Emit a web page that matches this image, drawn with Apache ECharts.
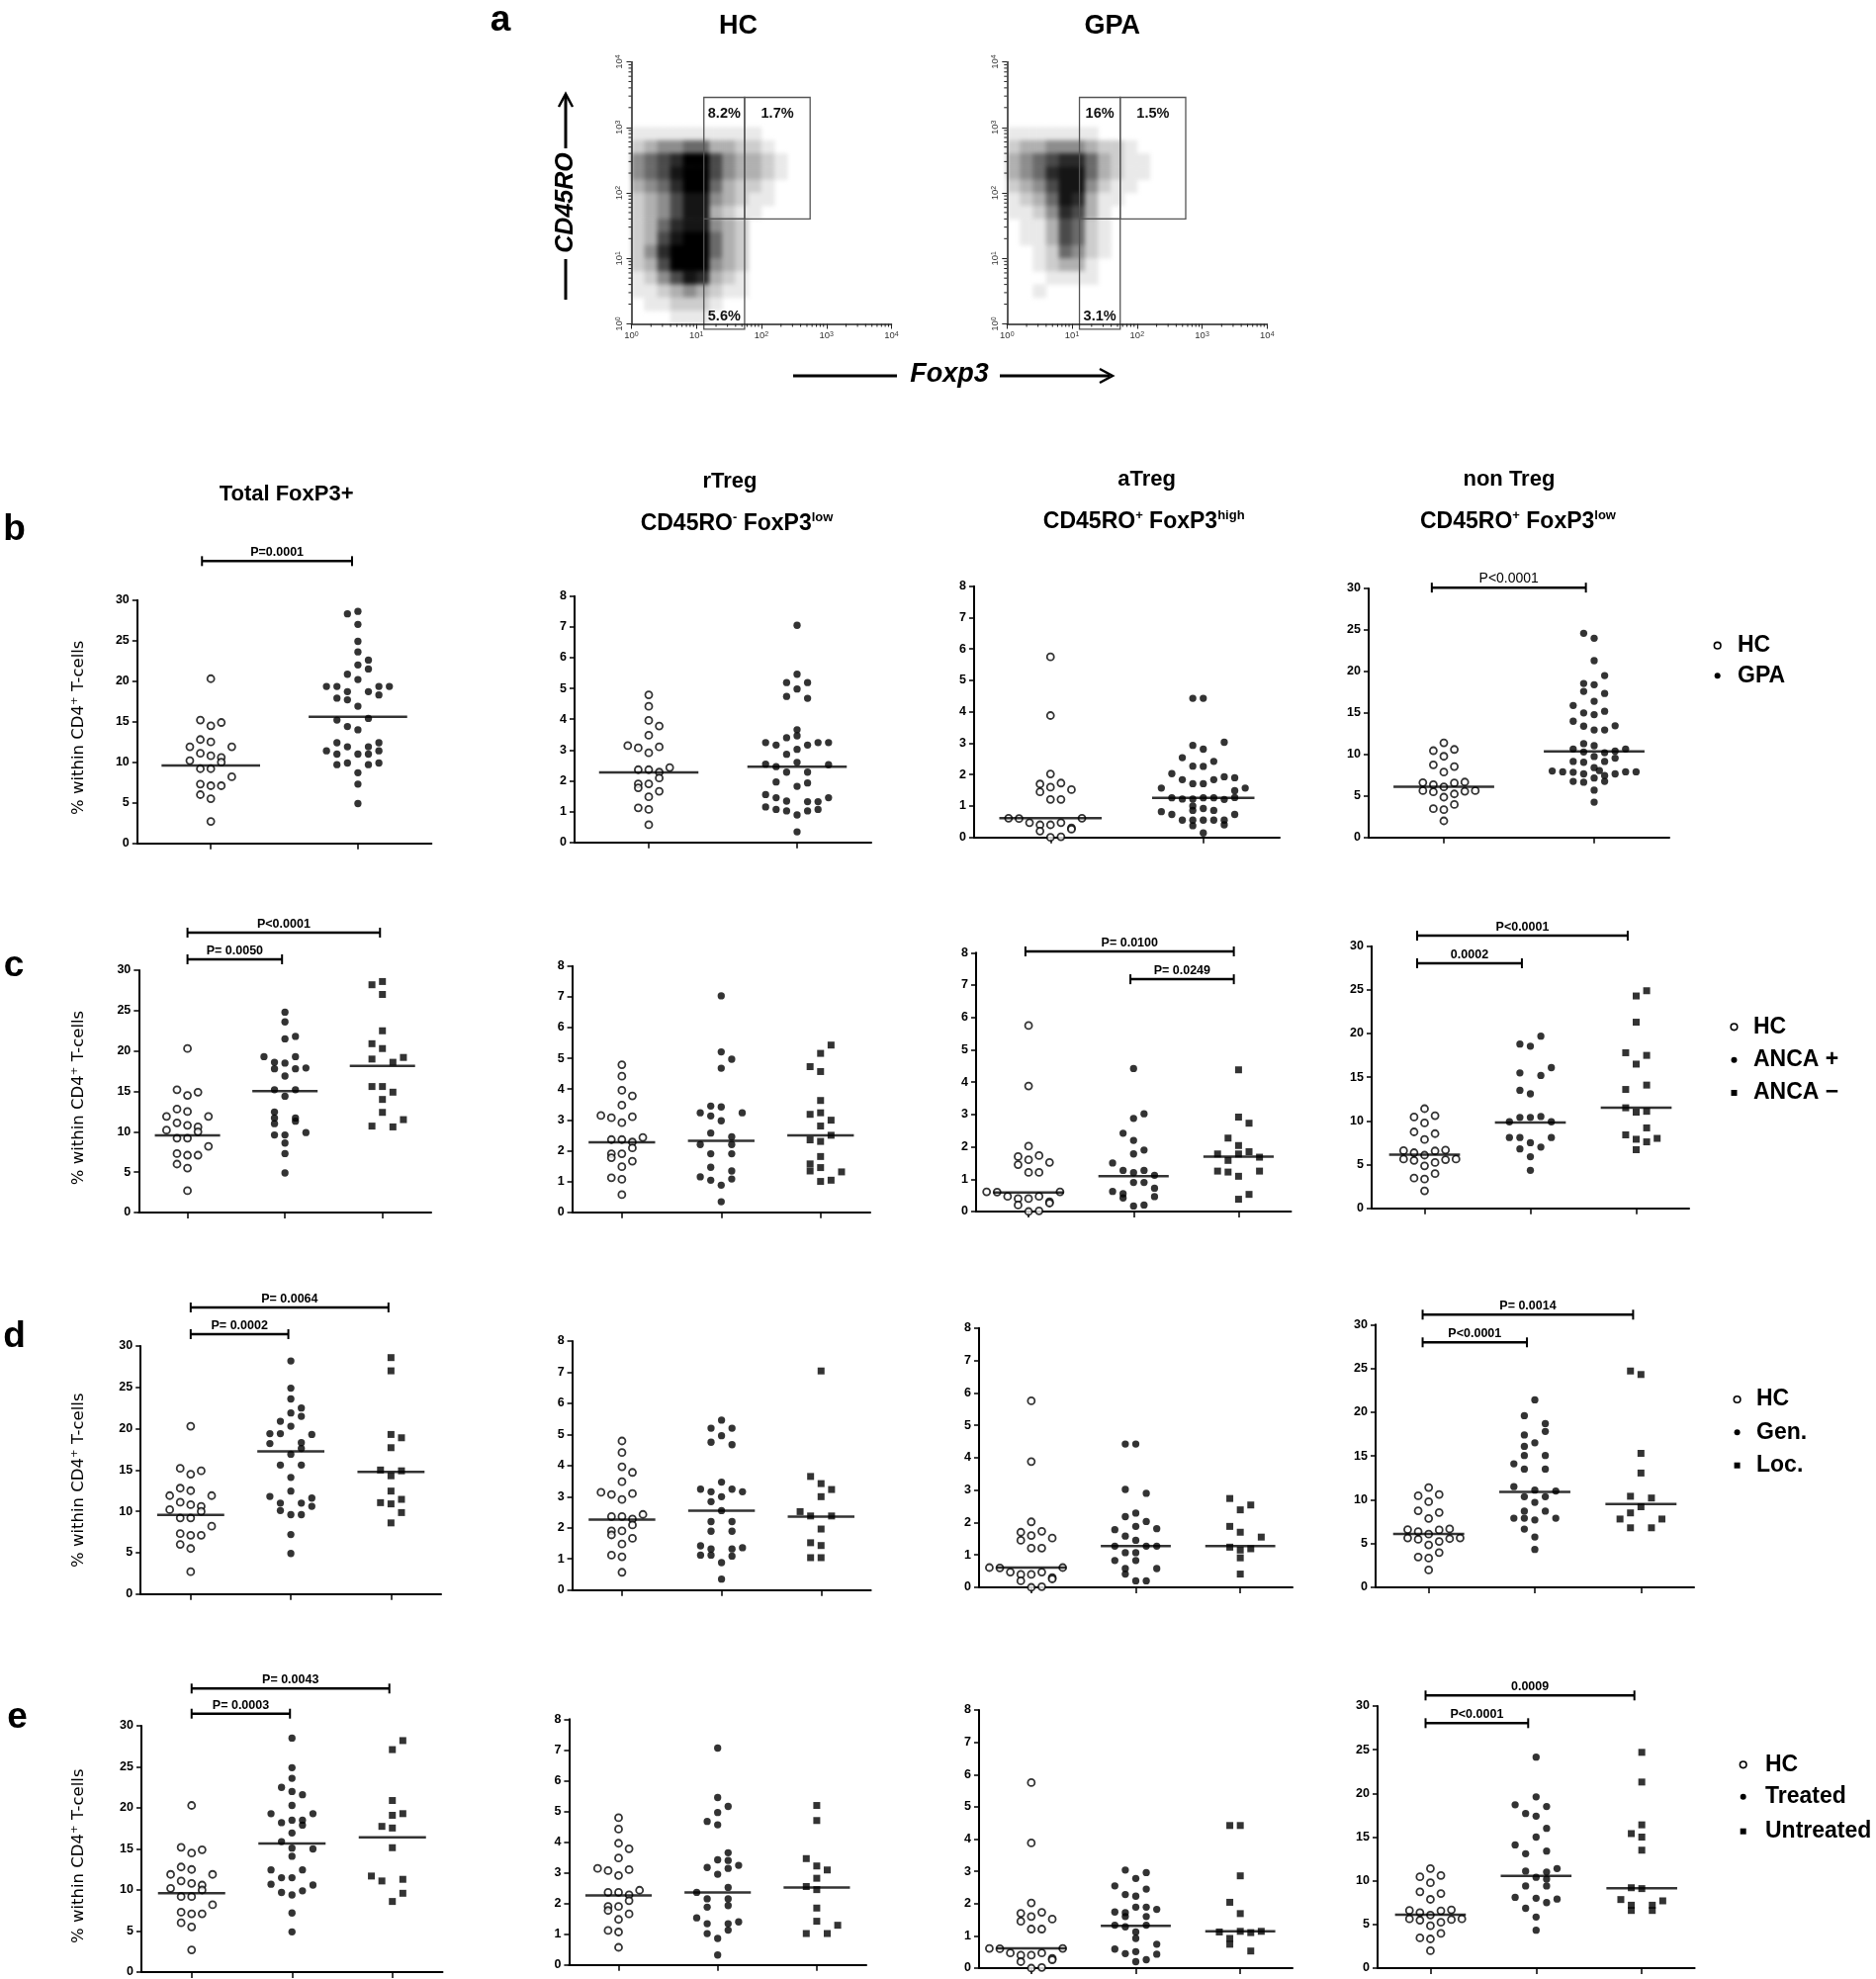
<!DOCTYPE html>
<html>
<head>
<meta charset="utf-8">
<script src="https://cdn.jsdelivr.net/npm/echarts/dist/echarts.min.js"></script>
<style>
html,body{margin:0;padding:0;background:#ffffff;}
#wrap{position:relative;width:1897px;height:2001px;}
#density{position:absolute;left:0;top:0;width:1897px;height:400px;filter:blur(2.2px);}
#chart{position:absolute;left:0;top:0;width:1897px;height:2001px;}
</style>
</head>
<body>
<div id="wrap"><div id="density"></div><div id="chart"></div></div>
<script>
// ================= DATA =================
// Each point: [lane, value]  lane = horizontal slot (in dot widths) inside its group column
// Healthy controls (identical in rows b-e)
const hcTotal = [[0,20.3],[-1,15.2],[1,14.9],[0,14.5],[-1,12.8],[0,12.5],[-2,11.9],[2,11.9],[-1,11.1],[0,10.8],[1,10.6],[-2,10.2],[1,10.0],[-1,9.2],[0,9.2],[2,8.2],[-1,7.3],[0,7.1],[1,7.1],[-1,6.0],[0,5.5],[0,2.7]];
const hcRTreg = [[0,4.79],[0,4.42],[0,3.96],[1,3.78],[0,3.48],[-2,3.14],[-1,3.07],[1,3.10],[0,2.91],[-1,2.36],[0,2.36],[1,2.28],[2,2.43],[1,2.09],[-1,1.90],[0,1.90],[-1,1.77],[1,1.66],[0,1.48],[-1,1.12],[0,1.07],[0,0.57]];
const hcATreg = [[0,5.75],[0,3.88],[0,2.02],[-1,1.70],[1,1.73],[0,1.60],[2,1.52],[-1,1.45],[0,1.21],[1,1.21],[-4,0.61],[-3,0.60],[3,0.61],[-2,0.47],[-1,0.40],[0,0.40],[1,0.47],[2,0.30],[-1,0.20],[2,0.26],[0,0.0],[1,0.02]];
const hcNonTreg = [[0,11.4],[-1,10.45],[1,10.6],[0,9.77],[-1,8.74],[1,8.54],[0,7.87],[-2,6.6],[-1,6.36],[0,6.08],[1,6.56],[2,6.67],[-2,5.64],[-1,5.48],[1,5.24],[2,5.56],[3,5.64],[0,4.85],[1,3.97],[-1,3.46],[0,3.34],[0,1.99]];

// Row b: GPA
const gpaTotal = [[-1,28.3],[0,28.6],[0,27.0],[0,24.9],[0,23.6],[1,22.6],[0,22.0],[1,21.5],[-1,20.85],[0,20.2],[-3,19.35],[-2,19.35],[2,19.35],[3,19.35],[-1,18.7],[1,18.7],[2,18.3],[-2,17.9],[-1,17.7],[0,16.9],[-2,15.2],[1,15.4],[-1,14.4],[0,14.0],[-2,12.4],[2,12.4],[-1,11.9],[1,11.9],[-3,11.4],[2,11.4],[-2,11.0],[0,11.0],[1,11.0],[-2,9.7],[-1,9.9],[1,9.7],[2,9.9],[0,8.7],[0,7.3],[0,4.9]];
const gpaRTreg = [[0,7.05],[0,5.46],[-1,5.19],[1,5.19],[0,4.98],[-1,4.74],[1,4.68],[0,3.66],[-1,3.40],[0,3.46],[-3,3.24],[-2,3.16],[1,3.16],[2,3.24],[3,3.24],[-1,2.86],[0,3.02],[-3,2.54],[-2,2.46],[0,2.60],[3,2.52],[-1,2.28],[1,2.28],[-2,1.96],[1,1.93],[0,1.82],[-3,1.55],[-2,1.45],[-1,1.34],[1,1.32],[2,1.32],[3,1.45],[-3,1.15],[-2,1.07],[-1,1.02],[0,0.89],[1,1.02],[2,1.07],[0,0.34]];
const gpaATreg = [[-1,4.43],[0,4.43],[2,3.03],[-1,2.93],[0,2.81],[-2,2.54],[1,2.42],[-1,2.27],[0,2.26],[-3,2.03],[2,1.93],[3,1.90],[-2,1.84],[-1,1.71],[0,1.71],[1,1.84],[-4,1.57],[4,1.57],[3,1.49],[-3,1.26],[-2,1.22],[-1,1.22],[0,1.26],[1,1.26],[2,1.21],[3,1.27],[-1,1.0],[0,0.92],[-4,0.82],[-1,0.86],[1,0.86],[-3,0.73],[3,0.73],[-2,0.55],[-1,0.55],[0,0.55],[1,0.55],[2,0.55],[-1,0.37],[2,0.40],[0,0.14]];
const gpaNonTreg = [[-1,24.6],[0,24.0],[0,21.3],[1,19.5],[-1,18.55],[0,18.4],[-1,17.6],[1,17.35],[0,16.4],[-2,15.9],[-1,15.0],[0,14.8],[1,15.2],[-2,14.0],[-1,13.4],[0,12.95],[1,12.95],[2,13.45],[-1,11.3],[0,11.05],[-2,10.65],[3,10.65],[-1,10.3],[0,9.75],[1,10.2],[2,10.4],[-2,9.15],[-1,9.05],[1,9.15],[2,9.55],[0,8.4],[0.5,8.05],[-4,8.0],[-3,7.9],[-2,7.85],[-1,7.65],[1,7.45],[2,7.65],[3,7.9],[4,7.9],[-2,6.75],[-1,6.65],[0,7.15],[1,6.75],[0,5.7],[0,4.25]];

// Row c: ANCA+ / ANCA-
const ancaPosTotal = [[0,24.8],[0,23.6],[0,21.5],[1,21.8],[-2,19.3],[1,19.3],[-1,18.6],[0,18.5],[-1,17.8],[1,17.8],[2,17.9],[0,16.9],[-1,15.2],[1,15.2],[0,14.4],[-1,12.45],[-1,11.7],[1,11.7],[-1,11.0],[1,11.3],[-1,9.6],[0,9.6],[2,9.9],[0,8.6],[0,7.3],[0,4.9]];
const ancaNegTotal = [[-1,28.2],[0,28.6],[0,27.0],[0,22.5],[-1,20.9],[0,20.3],[2,19.2],[-1,19.0],[1,18.6],[-1,15.6],[0,15.6],[1,14.9],[0,14.0],[0,12.4],[2,11.5],[-1,10.7],[1,10.6]];
const ancaPosRTreg = [[0,7.03],[0,5.21],[1,4.97],[0,4.68],[-1,3.45],[0,3.42],[-2,3.23],[-1,3.13],[2,3.23],[0,2.97],[-1,2.57],[1,2.45],[-2,2.2],[1,2.2],[-1,1.9],[1,1.9],[-1,1.46],[1,1.34],[-2,1.15],[-1,1.04],[1,1.08],[0,0.88],[0,0.34]];
const ancaNegRTreg = [[1,5.43],[0,5.16],[-1,4.73],[0,4.57],[0,3.63],[-1,3.18],[0,3.23],[1,2.99],[0,2.8],[1,2.5],[-1,2.35],[0,2.3],[0,1.81],[-1,1.57],[0,1.45],[-1,1.34],[2,1.31],[0,1.0],[1,1.04]];
const ancaPosATreg = [[0,4.42],[0,2.88],[1,3.02],[-1,2.42],[0,2.2],[1,1.9],[0,1.78],[-2,1.5],[-1,1.27],[1,1.27],[0,1.2],[2,1.12],[0,0.9],[1,0.9],[-2,0.62],[-1,0.55],[2,0.72],[-1,0.42],[2,0.46],[0,0.17],[1,0.2]];
const ancaNegATreg = [[0,4.38],[0,2.92],[1,2.73],[-1,2.27],[0,2.04],[-2,1.78],[0,1.78],[1,1.85],[-1,1.58],[2,1.68],[-2,1.25],[-1,1.22],[2,1.25],[0,1.09],[1,0.53],[0,0.38]];
const ancaPosNonTreg = [[1,19.7],[-1,18.8],[0,18.55],[2,16.1],[-1,15.5],[1,15.2],[-1,13.5],[0,13.1],[-1,10.4],[0,10.4],[1,10.5],[-2,9.9],[2,9.9],[-2,8.1],[-1,8.1],[2,8.1],[0,7.5],[-1,6.8],[1,7.0],[0,5.9],[0,4.34]];
const ancaNegNonTreg = [[1,24.9],[0,24.3],[0,21.3],[-1,17.8],[1,17.5],[0,16.5],[1,14.1],[-1,13.6],[-1,11.5],[0,11.0],[1,11.1],[1,9.2],[-1,8.4],[0,7.9],[1,7.6],[2,8.0],[0,6.7]];

// Row d: generalized / localized
const genTotal = [[0,28.2],[0,24.9],[0,23.6],[1,22.5],[0,21.9],[1,21.5],[-1,20.9],[0,20.3],[-2,19.4],[-1,19.4],[2,19.3],[-2,18.2],[1,18.3],[1,17.6],[0,16.9],[-1,15.6],[1,15.6],[0,14.1],[0,12.45],[-2,11.8],[2,11.6],[-1,11.0],[1,11.0],[2,10.6],[-1,10.1],[0,9.6],[1,9.6],[0,7.2],[0,4.9]];
const locTotal = [[0,28.6],[0,27.0],[0,19.3],[1,18.9],[0,17.7],[-1,15.0],[1,14.9],[0,14.3],[0,12.45],[1,11.45],[-1,11.05],[0,10.9],[1,9.85],[0,8.6]];
const genRTreg = [[0,5.46],[-1,5.2],[1,5.2],[0,4.96],[-1,4.75],[1,4.67],[0,3.47],[-2,3.24],[-1,3.16],[1,3.24],[2,3.16],[0,3.0],[-1,2.84],[0,2.55],[-1,2.2],[1,2.2],[-1,1.89],[1,1.89],[-2,1.42],[-1,1.32],[1,1.32],[2,1.36],[-2,1.12],[-1,1.12],[1,1.09],[0,0.88],[0,0.35]];
const locRTreg = [[0,7.04],[-1,3.65],[0,3.42],[1,3.23],[0,3.0],[-2,2.52],[-1,2.38],[1,2.38],[0,1.96],[-1,1.52],[0,1.43],[-1,1.04],[0,1.04]];
const genATreg = [[-1,4.42],[0,4.42],[-1,3.02],[1,2.9],[0,2.29],[-1,2.18],[1,2.03],[0,1.88],[-2,1.78],[2,1.81],[-1,1.58],[0,1.45],[-2,1.27],[1,1.27],[2,1.27],[-1,1.07],[0,1.07],[-2,0.83],[0,0.83],[-1,0.58],[2,0.58],[-1,0.41],[0,0.2],[1,0.2]];
const locATreg = [[-1,2.74],[1,2.54],[0,2.39],[-1,1.88],[0,1.7],[2,1.55],[-1,1.24],[1,1.19],[0,1.15],[0,0.91],[0,0.41]];
const genNonTreg = [[0,21.4],[-1,19.6],[1,18.7],[1,17.8],[-1,17.4],[0,16.5],[-1,16.1],[-1,15.05],[1,15.05],[-2,14.1],[-1,13.5],[1,13.5],[-2,11.5],[0,11.1],[2,11.0],[-1,10.35],[1,10.35],[0,9.7],[-1,8.7],[1,8.7],[-2,7.9],[-1,7.9],[0,7.7],[2,7.9],[-1,6.65],[0,5.75],[0,4.33]];
const locNonTreg = [[-1,24.7],[0,24.3],[0,15.3],[0,13.05],[-1,10.4],[1,10.2],[0,9.2],[-1,8.5],[-2,7.8],[2,7.8],[-1,6.8],[1,6.8]];

// Row e: treated / untreated
const treatedTotal = [[0,28.5],[0,24.9],[0,23.6],[-1,22.5],[0,22.0],[1,21.6],[0,20.3],[-2,19.3],[2,19.3],[-1,18.2],[0,18.5],[1,18.5],[1,17.9],[0,16.95],[-1,15.9],[0,15.1],[2,15.0],[0,14.1],[-2,12.45],[1,12.45],[-1,11.5],[0,11.5],[-2,10.7],[2,10.6],[-1,9.7],[0,9.4],[1,9.9],[0,7.2],[0,4.9]];
const untreatedTotal = [[1,28.2],[0,27.1],[0,20.9],[0,19.1],[1,19.3],[-1,17.75],[0,17.55],[0,15.15],[-2,11.7],[-1,11.1],[1,11.3],[1,9.6],[0,8.6]];
const treatedRTreg = [[0,7.06],[0,5.45],[1,5.16],[0,4.96],[-1,4.67],[0,4.56],[1,3.65],[0,3.42],[1,3.4],[-1,3.17],[2,3.24],[1,3.14],[0,2.95],[1,2.52],[-2,2.36],[-1,2.15],[1,2.15],[-1,1.88],[1,1.93],[-2,1.53],[-1,1.34],[1,1.34],[2,1.4],[-1,1.02],[1,1.13],[0,0.86],[0,0.32]];
const untreatedRTreg = [[0,5.19],[0,4.7],[-1,3.46],[0,3.22],[1,3.09],[0,2.82],[-1,2.55],[0,2.45],[0,1.85],[0,1.42],[2,1.29],[-1,1.02],[1,1.02]];
const treatedATreg = [[-1,3.04],[1,2.96],[0,2.78],[-2,2.55],[1,2.45],[-1,2.28],[0,2.23],[0,1.89],[1,1.89],[2,1.82],[-2,1.74],[-1,1.72],[-1,1.6],[1,1.6],[-2,1.33],[-1,1.28],[1,1.33],[0,1.12],[0,0.92],[2,0.74],[-2,0.59],[-1,0.45],[0,0.51],[2,0.43],[0,0.2],[1,0.26]];
const untreatedATreg = [[-1,4.42],[0,4.42],[0,2.86],[-1,2.04],[0,1.69],[-2,1.12],[0,1.14],[2,1.14],[-1,0.92],[1,1.1],[-1,0.74],[1,0.53]];
const treatedNonTreg = [[0,24.15],[0,19.6],[-2,18.7],[1,18.5],[-1,17.7],[0,17.4],[1,16.0],[0,15.0],[-2,14.1],[-1,13.1],[1,13.4],[2,11.4],[-1,11.1],[1,11.0],[0,10.4],[1,10.2],[-1,9.4],[1,9.4],[-2,8.1],[0,8.0],[2,7.9],[1,7.5],[-1,6.85],[0,5.85],[0,4.34]];
const untreatedNonTreg = [[0,24.7],[0,21.3],[0,16.4],[-1,15.4],[0,15.0],[0,13.5],[-1,9.2],[0,9.1],[-2,7.85],[2,7.7],[-1,7.2],[1,7.2],[-1,6.6],[1,6.6]];

// Median lines per row, per panel (Total, rTreg, aTreg, nonTreg)
const medianRowB = [[9.6,15.6],[2.27,2.46],[0.61,1.26],[6.1,10.35]];
const medianRowC = [[9.55,15.02,18.16],[2.27,2.32,2.5],[0.59,1.09,1.70],[6.15,9.81,11.5]];
const medianRowD = [[9.57,17.27,14.76],[2.26,2.55,2.36],[0.61,1.27,1.27],[6.1,10.9,9.52]];
const medianRowE = [[9.6,15.66,16.43],[2.26,2.36,2.52],[0.61,1.31,1.14],[6.11,10.57,9.13]];

// Significance brackets: [panel, fromGroup, toGroup, level, label]
const bracketsRowB = [[0,0.94,1.96,34.8,'P=0.0001'],[3,0.92,1.945,30.1,'P<0.0001']];
const bracketsRowC = [[0,1.0,2.975,34.65,'P<0.0001'],[0,1.0,1.97,31.35,'P= 0.0050'],[2,0.97,2.955,8.04,'P= 0.0100'],[2,1.97,2.955,7.18,'P= 0.0249'],[3,0.93,2.92,31.2,'P<0.0001'],[3,0.93,1.92,28.04,'0.0002']];
const bracketsRowD = [[0,1.0,2.975,34.67,'P= 0.0064'],[0,1.0,1.975,31.44,'P= 0.0002'],[3,0.943,2.926,31.13,'P= 0.0014'],[3,0.943,1.926,27.97,'P<0.0001']];
const bracketsRowE = [[0,1.0,2.97,34.54,'P= 0.0043'],[0,1.0,1.98,31.48,'P= 0.0003'],[3,0.954,2.93,31.21,'0.0009'],[3,0.954,1.925,28.04,'P<0.0001']];

// Text
const panelTitles = ['Total FoxP3+','rTreg','aTreg','non Treg'];
const legendB = ['HC','GPA'];
const legendC = ['HC','ANCA +','ANCA \u2212'];
const legendD = ['HC','Gen.','Loc.'];
const legendE = ['HC','Treated','Untreated'];
const yTitle = '% within CD4\u207A T-cells';

// Flow cytometry density (panel a): rows from 10^3.4 (top) down to 10^0, 0.2-decade cells from 10^0 rightwards, level 0-9
const hcFlowDensity = [
 "0000000000000","0000000000000","1111111111000","2344553322100","4567996433210","4568996433210",
 "3457995322100","2346884321100","2346883211000","2357884320000","2368995320000","2479995320000",
 "2369994320000","1246873210000","1123432110000","0112221000000","0001110000000"];
const gpaFlowDensity = [
 "0000000000000","0000000000000","1111111000000","2334443221000","3456775321100","3457885321100",
 "2346884211000","1235873110000","1124763100000","0113652100000","0113652100000","0012542100000",
 "0012331000000","0001111000000","0010000000000","0000000000000","0000000000000"];
const flowGateX = [13, 55, 560];
const flowGateY = [0.83, 40, 2860];
const hcGateLabels = ['8.2%','1.7%','5.6%'];
const gpaGateLabels = ['16%','1.5%','3.1%'];
const flowMinorTicks = [2,3,4,5,6,7,8,9,20,30,40,50,60,70,80,90,200,300,400,500,600,700,800,900,2000,3000,4000,5000,6000,7000,8000,9000];

// ================= CHART =================
const FONT = "'Liberation Sans', Arial, Helvetica, sans-serif";
const chart = echarts.init(document.getElementById('chart'), null, {renderer:'canvas', width:1897, height:2001});
const dchart = echarts.init(document.getElementById('density'), null, {renderer:'canvas', width:1897, height:400});
const grid = [], xAxis = [], yAxis = [], series = [], graphic = [];
const dGrid = [], dX = [], dY = [], dSeries = [];
const LANE_PX = 10.6, MED_HALF = 0.335;
const STY = {
  hc:  {symbol:'circle', symbolSize:7, itemStyle:{color:'#ffffff', borderColor:'#000', borderWidth:1.8}},
  dot: {symbol:'circle', symbolSize:7.3, itemStyle:{color:'#000'}},
  sq:  {symbol:'rect', symbolSize:7, itemStyle:{color:'#000'}}
};

function dotPanel(rect, yMax, groups, medians, brackets, normalP) {
  const gi = grid.length;
  grid.push({left:rect[0], top:rect[1], width:rect[2], height:rect[3], outerBoundsMode:'none'});
  const N = groups.length;
  xAxis.push({type:'category', gridIndex:gi, data:groups.map((g,i)=>'g'+i), boundaryGap:true,
    axisLine:{show:true, onZero:false, lineStyle:{color:'#000', width:2}},
    axisTick:{show:true, alignWithLabel:true, length:6, lineStyle:{color:'#000', width:1.5}},
    axisLabel:{show:false}, splitLine:{show:false}});
  const xv = xAxis.length;
  xAxis.push({type:'value', gridIndex:gi, min:0.5, max:N+0.5, show:false});
  const yi = yAxis.length;
  yAxis.push({type:'value', gridIndex:gi, min:0, max:yMax, interval: yMax>10?5:1,
    axisLine:{show:true, lineStyle:{color:'#000', width:2}},
    axisTick:{show:true, length:5, lineStyle:{color:'#000', width:1.5}},
    axisLabel:{show:true, color:'#000', fontSize:12.5, fontWeight:'bold', fontFamily:FONT, margin:8},
    splitLine:{show:false}});
  const laneCat = LANE_PX / (rect[2]/N);
  groups.forEach(([pts, kind], k) => {
    const st = STY[kind];
    series.push({type:'scatter', xAxisIndex:xv, yAxisIndex:yi, symbol:st.symbol, symbolSize:st.symbolSize,
      itemStyle:st.itemStyle, silent:true, clip:false, z:3,
      data: pts.map(([l,v]) => [k+1+l*laneCat, v])});
  });
  series.push({type:'scatter', xAxisIndex:xv, yAxisIndex:yi, symbol:'rect',
    symbolSize:[2*MED_HALF*rect[2]/N, 2.5], itemStyle:{color:'#000'}, silent:true, clip:false, z:4,
    data: medians.map((m,k)=>[k+1, m])});
  if (brackets.length) {
    series.push({type:'custom', xAxisIndex:xv, yAxisIndex:yi, clip:false, silent:true, z:5,
      data: brackets.map(b => [b[1], b[2], b[3]]),
      renderItem: (params, api) => {
        const b = brackets[params.dataIndex];
        const p1 = api.coord([api.value(0), api.value(2)]);
        const p2 = api.coord([api.value(1), api.value(2)]);
        return {type:'group', children:[
          {type:'line', shape:{x1:p1[0], y1:p1[1], x2:p2[0], y2:p2[1]}, style:{stroke:'#000', lineWidth:2.5}},
          {type:'line', shape:{x1:p1[0], y1:p1[1]-5, x2:p1[0], y2:p1[1]+5}, style:{stroke:'#000', lineWidth:2}},
          {type:'line', shape:{x1:p2[0], y1:p2[1]-5, x2:p2[0], y2:p2[1]+5}, style:{stroke:'#000', lineWidth:2}},
          {type:'text', x:(p1[0]+p2[0])/2, y:p1[1]-2, style:{text:b[4], fill:'#000',
            fontSize: normalP ? 14 : 12.5, fontWeight: normalP ? 'normal' : 'bold', fontFamily:FONT,
            align:'center', verticalAlign:'bottom'}}
        ]};
      }});
  }
}

function flowPlot(rect, density, gateLabels) {
  // density layer (separate, softly blurred canvas placed exactly under the log grid)
  const gh = dGrid.length;
  dGrid.push({left:rect[0], top:rect[1], width:rect[2], height:rect[3], outerBoundsMode:'none'});
  const cells = Array.from({length:20}, (_, i) => String(i));
  const hx = dX.length; dX.push({type:'category', gridIndex:gh, data:cells, show:false});
  const hy = dY.length; dY.push({type:'category', gridIndex:gh, data:cells, show:false});
  const hdata = [];
  const topJ = density.length - 1;
  density.forEach((row, r) => {
    for (let i = 0; i < row.length; i++) {
      const lv = Number(row[i]);
      if (lv > 0) hdata.push([i, topJ - r, lv]);
    }
  });
  dSeries.push({type:'heatmap', xAxisIndex:hx, yAxisIndex:hy, data:hdata, silent:true,
    itemStyle:{borderWidth:0}, emphasis:{disabled:true}});
  // log axes grid
  const g = grid.length;
  grid.push({left:rect[0], top:rect[1], width:rect[2], height:rect[3], outerBoundsMode:'none'});
  const lbl = v => '{b|10}{s|' + Math.round(Math.log10(v)) + '}';
  const rich = {b:{fontSize:9.5, color:'#333', fontFamily:FONT}, s:{fontSize:7, color:'#333', fontFamily:FONT, verticalAlign:'top'}};
  const lx = xAxis.length;
  xAxis.push({type:'log', logBase:10, gridIndex:g, min:1, max:10000, splitNumber:4, z:10,
    axisLine:{show:true, lineStyle:{color:'#222', width:1.5}},
    axisTick:{show:true, length:5, lineStyle:{color:'#222', width:1}},
    axisLabel:{show:true, formatter:lbl, rich:rich, margin:7}, splitLine:{show:false}});
  const ly = yAxis.length;
  yAxis.push({type:'log', logBase:10, gridIndex:g, min:1, max:10000, splitNumber:4, z:10,
    axisLine:{show:true, lineStyle:{color:'#222', width:1.5}},
    axisTick:{show:true, length:5, lineStyle:{color:'#222', width:1}},
    axisLabel:{show:true, formatter:lbl, rich:rich, margin:7, rotate:90}, splitLine:{show:false}});
  series.push({type:'custom', xAxisIndex:lx, yAxisIndex:ly, clip:false, silent:true, z:6,
    data: flowMinorTicks.map(v => [v, v]),
    renderItem: (params, api) => {
      const px = api.coord([api.value(0), 1]);
      const py = api.coord([1, api.value(1)]);
      return {type:'group', children:[
        {type:'line', shape:{x1:px[0], y1:px[1], x2:px[0], y2:px[1]+3}, style:{stroke:'#222', lineWidth:1}},
        {type:'line', shape:{x1:py[0], y1:py[1], x2:py[0]-3, y2:py[1]}, style:{stroke:'#222', lineWidth:1}}
      ]};
    }});
  const gx = flowGateX, gy = flowGateY;
  const boxes = [[gx[0], gy[1], gx[1], gy[2]], [gx[1], gy[1], gx[2], gy[2]], [gx[0], gy[0], gx[1], gy[1]]];
  series.push({type:'custom', xAxisIndex:lx, yAxisIndex:ly, clip:false, silent:true, z:7,
    data: boxes,
    renderItem: (params, api) => {
      const a = api.coord([api.value(0), api.value(1)]);
      const b = api.coord([api.value(2), api.value(3)]);
      const x0 = Math.min(a[0], b[0]), x1 = Math.max(a[0], b[0]);
      const y0 = Math.min(a[1], b[1]), y1 = Math.max(a[1], b[1]);
      const idx = params.dataIndex;
      const ty = idx < 2 ? y0 + 16 : y1 - 13;
      return {type:'group', children:[
        {type:'rect', shape:{x:x0, y:y0, width:x1-x0, height:y1-y0}, style:{fill:null, stroke:'#555', lineWidth:1.3}},
        {type:'text', x:(x0+x1)/2, y:ty, style:{text:gateLabels[idx], fill:'#111', fontSize:14.5, fontWeight:'bold', fontFamily:FONT, align:'center', verticalAlign:'middle'}}
      ]};
    }});
}

// ---- text helpers ----
function txt(text, x, y, size, o) {
  o = o || {};
  graphic.push({type:'text', x:x, y:y, rotation:o.rot||0, silent:true, z:50,
    style:{text:text, fill:'#000', fontSize:size, fontWeight:o.weight||'bold', fontStyle:o.italic?'italic':'normal',
      fontFamily:o.family||FONT, align:o.align||'center', verticalAlign:o.va||'middle'}});
}
function supText(main1, sup1, main2, sup2, x, y) {
  const r = {m:{fontSize:23, fontWeight:'bold', fontFamily:FONT, fill:'#000', lineHeight:26},
             s:{fontSize:13, fontWeight:'bold', fontFamily:FONT, fill:'#000', verticalAlign:'top', lineHeight:26}};
  graphic.push({type:'text', x:x, y:y, silent:true, z:50,
    style:{text:'{m|'+main1+'}{s|'+sup1+'}{m| '+main2+'}{s|'+sup2+'}', rich:r, align:'center', verticalAlign:'middle', fontSize:23, fontFamily:FONT}});
}
function legend(labels, kinds, mx, tx, ys) {
  labels.forEach((l, i) => {
    const k = kinds[i], y = ys[i];
    if (k === 'hc') graphic.push({type:'circle', shape:{cx:mx, cy:y, r:3.3}, style:{fill:'#fff', stroke:'#000', lineWidth:1.6}, silent:true});
    else if (k === 'dot') graphic.push({type:'circle', shape:{cx:mx, cy:y, r:3}, style:{fill:'#000'}, silent:true});
    else graphic.push({type:'rect', shape:{x:mx-3, y:y-3, width:6, height:6}, style:{fill:'#000'}, silent:true});
    txt(l, tx, y, 23, {align:'left'});
  });
}

// ---- panel layout ----
const colYMax = [30, 8, 8, 30];
const rectsB = [[138.8,606.7,297.5,246],[581,602.7,300,249],[985,592.7,309,254],[1384,595,304,251.7]];
const rectsC = [[140.3,981,295.7,245],[578.6,976.7,301.4,249],[987,963.3,318.5,261.7],[1387,956.7,321,265]];
const rectsD = [[142.2,1361,303.8,250.7],[578.6,1356,302,251.7],[990,1342.7,317,262.3],[1391,1339.3,322,265.7]];
const rectsE = [[143,1745,304.5,249],[575.4,1738.3,300.6,248.4],[990,1729,317,261],[1393,1725,320.6,265]];

const rows = [
  {rects:rectsB, med:medianRowB, br:bracketsRowB, groups:[
    [[hcTotal,'hc'],[gpaTotal,'dot']], [[hcRTreg,'hc'],[gpaRTreg,'dot']],
    [[hcATreg,'hc'],[gpaATreg,'dot']], [[hcNonTreg,'hc'],[gpaNonTreg,'dot']]]},
  {rects:rectsC, med:medianRowC, br:bracketsRowC, groups:[
    [[hcTotal,'hc'],[ancaPosTotal,'dot'],[ancaNegTotal,'sq']], [[hcRTreg,'hc'],[ancaPosRTreg,'dot'],[ancaNegRTreg,'sq']],
    [[hcATreg,'hc'],[ancaPosATreg,'dot'],[ancaNegATreg,'sq']], [[hcNonTreg,'hc'],[ancaPosNonTreg,'dot'],[ancaNegNonTreg,'sq']]]},
  {rects:rectsD, med:medianRowD, br:bracketsRowD, groups:[
    [[hcTotal,'hc'],[genTotal,'dot'],[locTotal,'sq']], [[hcRTreg,'hc'],[genRTreg,'dot'],[locRTreg,'sq']],
    [[hcATreg,'hc'],[genATreg,'dot'],[locATreg,'sq']], [[hcNonTreg,'hc'],[genNonTreg,'dot'],[locNonTreg,'sq']]]},
  {rects:rectsE, med:medianRowE, br:bracketsRowE, groups:[
    [[hcTotal,'hc'],[treatedTotal,'dot'],[untreatedTotal,'sq']], [[hcRTreg,'hc'],[treatedRTreg,'dot'],[untreatedRTreg,'sq']],
    [[hcATreg,'hc'],[treatedATreg,'dot'],[untreatedATreg,'sq']], [[hcNonTreg,'hc'],[treatedNonTreg,'dot'],[untreatedNonTreg,'sq']]]}
];
rows.forEach((row, ri) => {
  for (let c = 0; c < 4; c++) {
    dotPanel(row.rects[c], colYMax[c], row.groups[c], row.med[c], row.br.filter(b => b[0] === c), ri === 0 && c === 3);
  }
});

flowPlot([638.5, 62.5, 263, 265], hcFlowDensity, hcGateLabels);
flowPlot([1018.3, 62.5, 263, 265], gpaFlowDensity, gpaGateLabels);

// ---- texts ----
txt('a', 506, 21, 37);
txt('HC', 746.6, 27, 27);
txt('GPA', 1124.7, 27, 27);
txt('CD45RO', 572, 205, 25, {rot:Math.PI/2, italic:true});
graphic.push({type:'line', shape:{x1:572, y1:303, x2:572, y2:262}, style:{stroke:'#000', lineWidth:3}, silent:true});
graphic.push({type:'line', shape:{x1:572, y1:150, x2:572, y2:97}, style:{stroke:'#000', lineWidth:3}, silent:true});
graphic.push({type:'polyline', shape:{points:[[565,108],[572,95],[579,108]]}, style:{stroke:'#000', lineWidth:2.5, fill:null}, silent:true});
txt('Foxp3', 960, 379, 27, {italic:true});
graphic.push({type:'line', shape:{x1:802, y1:380, x2:907, y2:380}, style:{stroke:'#000', lineWidth:3}, silent:true});
graphic.push({type:'line', shape:{x1:1011, y1:380, x2:1122, y2:380}, style:{stroke:'#000', lineWidth:3}, silent:true});
graphic.push({type:'polyline', shape:{points:[[1112,373],[1125,380],[1112,387]]}, style:{stroke:'#000', lineWidth:2.5, fill:null}, silent:true});

txt('b', 14.5, 536, 37);
txt('c', 14, 977, 37);
txt('d', 14.5, 1352, 37);
txt('e', 17.5, 1737, 37);

txt(panelTitles[0], 289.6, 500, 22);
txt(panelTitles[1], 738, 487, 22);
txt(panelTitles[2], 1159.7, 485, 22);
txt(panelTitles[3], 1525.9, 485, 22);
supText('CD45RO', '-', 'FoxP3', 'low', 745, 530);
supText('CD45RO', '+', 'FoxP3', 'high', 1156.7, 528);
supText('CD45RO', '+', 'FoxP3', 'low', 1535, 528);

[735.8, 1110, 1496.7, 1876.7].forEach(y => txt(yTitle, 80, y, 16.5, {rot:Math.PI/2, weight:'normal', family:"'DejaVu Sans', 'Liberation Sans', sans-serif"}));

legend(legendB, ['hc','dot'], 1736.7, 1757, [652.7, 683.3]);
legend(legendC, ['hc','dot','sq'], 1753.5, 1773, [1038.3, 1071.7, 1105]);
legend(legendD, ['hc','dot','sq'], 1756.6, 1776, [1415, 1448.3, 1481.7]);
legend(legendE, ['hc','dot','sq'], 1762.7, 1785, [1784.3, 1816.7, 1851.7]);

dchart.setOption({
  animation:false,
  grid:dGrid, xAxis:dX, yAxis:dY, series:dSeries,
  visualMap:[{type:'continuous', show:false, seriesIndex:[0,1], dimension:2, min:1, max:9,
    inRange:{color:['#e9e9e9','#b0b0b0','#6a6a6a','#2a2a2a','#000000']}}]
});
chart.setOption({
  animation:false,
  backgroundColor:'transparent',
  grid:grid, xAxis:xAxis, yAxis:yAxis, series:series,
  graphic:graphic
});
</script>
</body>
</html>
